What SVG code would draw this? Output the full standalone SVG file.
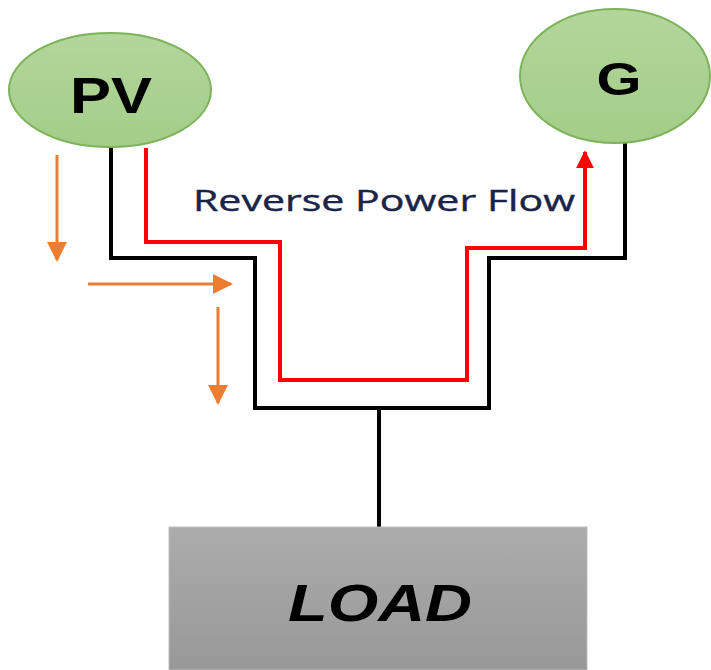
<svg xmlns="http://www.w3.org/2000/svg" width="711" height="670" viewBox="0 0 711 670">
<defs>
<linearGradient id="gGreen" x1="0" y1="0" x2="0" y2="1">
<stop offset="0" stop-color="#B3D69C"/>
<stop offset="1" stop-color="#A3CD88"/>
</linearGradient>
<linearGradient id="gGray" x1="0" y1="0" x2="0" y2="1">
<stop offset="0" stop-color="#ACACAC"/>
<stop offset="1" stop-color="#989898"/>
</linearGradient>
<marker id="mOrange" viewBox="0 0 10 10" refX="9" refY="5" markerWidth="20" markerHeight="20" markerUnits="userSpaceOnUse" orient="auto">
<path d="M0,0 L10,5 L0,10 z" fill="#ED7D31"/>
</marker>
<marker id="mRed" viewBox="0 0 10 10" refX="9" refY="5" markerWidth="18" markerHeight="22" markerUnits="userSpaceOnUse" orient="auto">
<path d="M0,0 L10,5 L0,10 z" fill="#FF0000"/>
</marker>
</defs>
<style>
.node{fill:url(#gGreen);stroke:#7DB35A;stroke-width:2}
.wire{fill:none;stroke:#000;stroke-width:4;stroke-linejoin:miter}
.red{fill:none;stroke:#FF0000;stroke-width:4}
.or{fill:none;stroke:#ED7D31;stroke-width:3}
.lbl{font-family:"Liberation Sans",Arial,sans-serif;font-weight:bold;fill:#000;text-anchor:middle}
.rpf{font-family:"Open Sans","DejaVu Sans",sans-serif;font-size:29px;fill:#1A2448;stroke:#1A2448;stroke-width:0.4}
</style>
<g id="connectors">
<path class="wire" d="M111,147 V258 H255 V408 H489 V258 H625 V143"/>
<path class="wire" d="M379,408 V527"/>
<path class="red" d="M146,148 V242 H280 V380 H467 V248 H585 V152" marker-end="url(#mRed)"/>
<path class="or" d="M57,155 V260" marker-end="url(#mOrange)"/>
<path class="or" d="M88,284 H231" marker-end="url(#mOrange)"/>
<path class="or" d="M218,307 V403" marker-end="url(#mOrange)"/>
</g>
<g id="pv">
<ellipse class="node" cx="110" cy="90" rx="101" ry="57"/>
<text class="lbl" x="111" y="113" font-size="50" textLength="82" lengthAdjust="spacingAndGlyphs">PV</text>
</g>
<g id="g">
<ellipse class="node" cx="615" cy="76" rx="95" ry="67"/>
<text class="lbl" x="619" y="95" font-size="46" textLength="45" lengthAdjust="spacingAndGlyphs">G</text>
</g>
<g id="load">
<rect x="169" y="527" width="418" height="143" fill="url(#gGray)" stroke="#BDBDBD" stroke-width="1"/>
<text class="lbl" x="380" y="621" font-size="52" font-style="italic" textLength="184" lengthAdjust="spacingAndGlyphs">LOAD</text>
</g>
<g id="label">
<text class="rpf" x="193" y="211" textLength="382" lengthAdjust="spacingAndGlyphs">Reverse Power Flow</text>
</g>
</svg>
